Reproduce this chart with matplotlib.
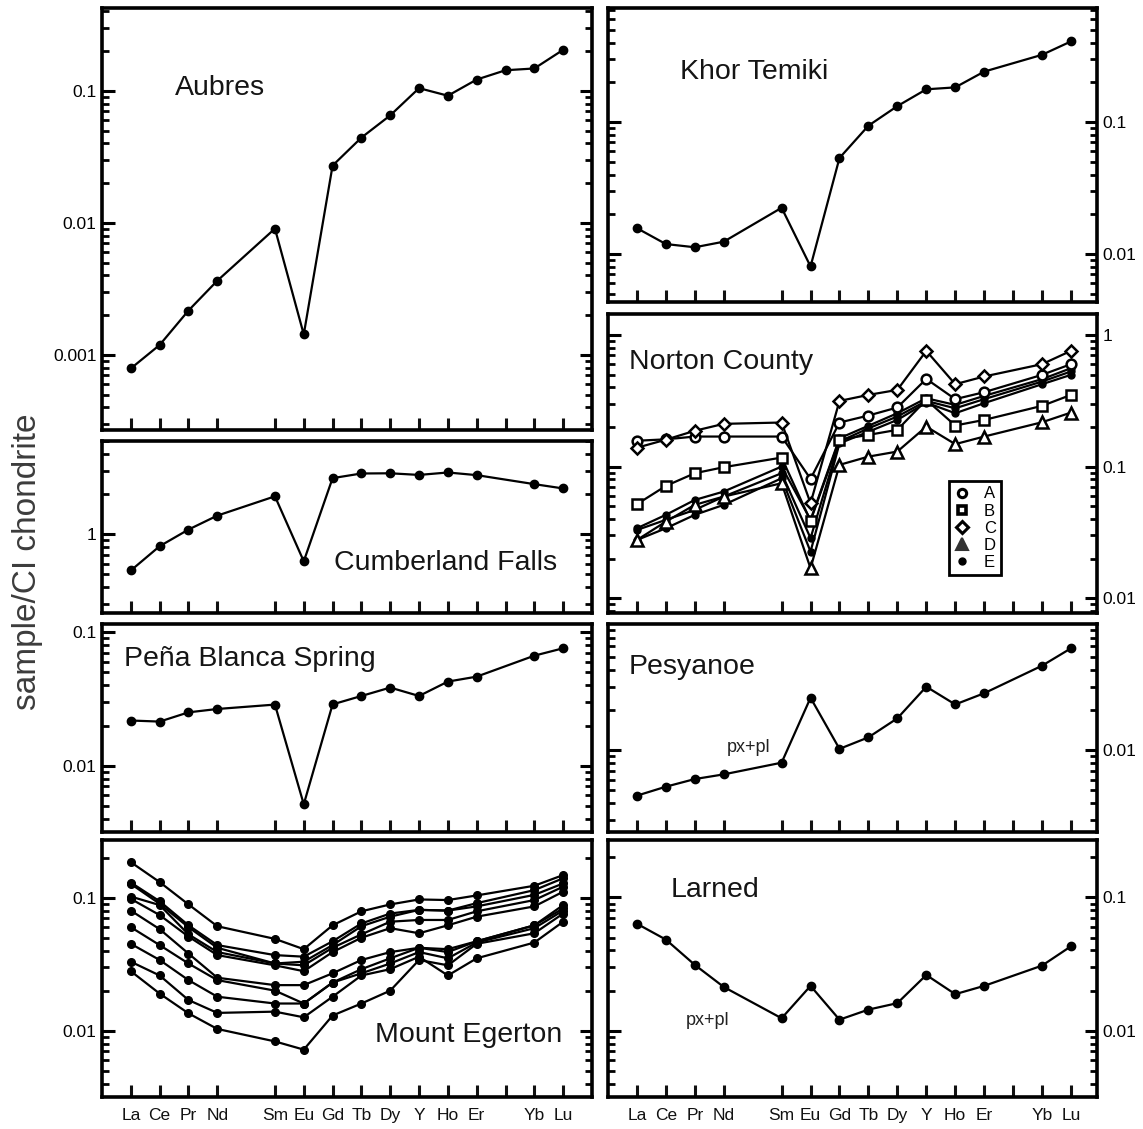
import matplotlib
matplotlib.use('Agg')
import matplotlib.pyplot as plt
from matplotlib.lines import Line2D
from matplotlib.ticker import LogLocator, NullFormatter, FixedLocator, FixedFormatter

plt.rcParams['font.family'] = ['Liberation Sans', 'DejaVu Sans']

# ---------------- data ----------------
slots = ['La', 'Ce', 'Pr', 'Nd', 'Pm', 'Sm', 'Eu', 'Gd', 'Tb', 'Dy', 'Y', 'Ho', 'Er', 'Tm', 'Yb', 'Lu']
ree = ['La', 'Ce', 'Pr', 'Nd', 'Sm', 'Eu', 'Gd', 'Tb', 'Dy', 'Y', 'Ho', 'Er', 'Yb', 'Lu']
ree_tm = ['La', 'Ce', 'Pr', 'Nd', 'Sm', 'Eu', 'Gd', 'Tb', 'Dy', 'Y', 'Ho', 'Er', 'Tm', 'Yb', 'Lu']

aubres = [7.9e-4, 1.19e-3, 2.17e-3, 3.65e-3, 9.06e-3, 1.43e-3, 0.0272, 0.0443, 0.0653,
          0.105, 0.092, 0.122, 0.1435, 0.148, 0.205]
khor_temiki = [0.0157, 0.0119, 0.01125, 0.0124, 0.0224, 0.00805, 0.0534, 0.0938, 0.132,
               0.177, 0.183, 0.241, 0.323, 0.408]
cumberland = [0.532, 0.81, 1.08, 1.375, 1.92, 0.624, 2.63, 2.85, 2.86, 2.78, 2.90, 2.77, 2.37, 2.20]
pena_blanca = [0.0218, 0.0214, 0.0251, 0.0266, 0.0287, 0.00513, 0.0288, 0.0333, 0.0385,
               0.0333, 0.0427, 0.0465, 0.0668, 0.0759]
pesyanoe = [0.00454, 0.0053, 0.00605, 0.00656, 0.00803, 0.0247, 0.0102, 0.01245, 0.0173,
            0.0299, 0.0220, 0.0267, 0.0430, 0.0581]
larned = [0.0635, 0.0483, 0.0312, 0.0213, 0.0124, 0.0217, 0.0121, 0.0144, 0.0161,
          0.0262, 0.0188, 0.0217, 0.0308, 0.043]

norton_A = [0.157, 0.161, 0.169, 0.169, 0.169, 0.0806, 0.216, 0.244, 0.281, 0.463, 0.325, 0.367, 0.497, 0.599]
norton_B = [0.0518, 0.0713, 0.089, 0.0989, 0.117, 0.0387, 0.160, 0.174, 0.190, 0.321, 0.205, 0.226, 0.289, 0.350]
norton_C = [0.139, 0.160, 0.187, 0.211, 0.216, 0.0527, 0.315, 0.350, 0.382, 0.756, 0.422, 0.483, 0.599, 0.756]
norton_D = [0.0277, 0.0382, 0.0512, 0.0592, 0.0747, 0.0169, 0.103, 0.119, 0.130, 0.201, 0.148, 0.169, 0.217, 0.257]
norton_E1 = [0.0340, 0.0430, 0.0558, 0.0646, 0.100, 0.0394, 0.164, 0.204, 0.254, 0.330, 0.294, 0.344, 0.461, 0.558]
norton_E2 = [0.0330, 0.0394, 0.0469, 0.0592, 0.089, 0.0286, 0.155, 0.195, 0.240, 0.315, 0.277, 0.325, 0.442, 0.527]
norton_E3 = [0.0277, 0.0340, 0.0430, 0.0512, 0.0815, 0.0226, 0.150, 0.184, 0.226, 0.306, 0.254, 0.303, 0.422, 0.497]

egerton_1 = [0.185, 0.131, 0.089, 0.061, 0.049, 0.041, 0.062, 0.079, 0.089, 0.097, 0.096, 0.104, 0.123, 0.148]
egerton_2 = [0.130, 0.094, 0.062, 0.044, 0.037, 0.036, 0.047, 0.064, 0.076, 0.081, 0.080, 0.091, 0.114, 0.140]
egerton_3 = [0.127, 0.090, 0.060, 0.042, 0.032, 0.033, 0.044, 0.061, 0.072, 0.081, 0.080, 0.086, 0.105, 0.128]
egerton_4 = [0.102, 0.088, 0.053, 0.039, 0.032, 0.031, 0.042, 0.053, 0.066, 0.068, 0.068, 0.079, 0.096, 0.121]
egerton_5 = [0.098, 0.074, 0.051, 0.037, 0.031, 0.028, 0.039, 0.050, 0.059, 0.054, 0.062, 0.072, 0.086, 0.111]
egerton_6 = [0.080, 0.058, 0.038, 0.025, 0.022, 0.022, 0.027, 0.034, 0.039, 0.042, 0.041, 0.047, 0.062, 0.088]
egerton_7 = [0.060, 0.044, 0.032, 0.024, 0.020, 0.016, 0.023, 0.029, 0.035, 0.042, 0.039, 0.047, 0.062, 0.083]
egerton_8 = [0.045, 0.034, 0.024, 0.018, 0.016, 0.016, 0.023, 0.027, 0.032, 0.039, 0.035, 0.046, 0.059, 0.080]
egerton_9 = [0.033, 0.026, 0.017, 0.0136, 0.0139, 0.0126, 0.018, 0.026, 0.029, 0.036, 0.026, 0.035, 0.046, 0.066]
egerton_10 = [0.028, 0.019, 0.0135, 0.0103, 0.0083, 0.0072, 0.013, 0.016, 0.020, 0.034, 0.031, 0.045, 0.054, 0.076]

legend_labels = ['A', 'B', 'C', 'D', 'E']
ylabel = 'sample/CI chondrite'

# ---------------- figure ----------------
fig = plt.figure(figsize=(11.43, 11.29), dpi=100)
W, H = 1143.0, 1129.0

tick_slots = [s for s in slots if s != 'Pm']
tick_pos = [slots.index(s) for s in tick_slots]
tick_text = ['' if s == 'Tm' else s for s in tick_slots]


def px_rect(x0, y0, x1, y1):
    return [x0 / W, 1 - y1 / H, (x1 - x0) / W, (y1 - y0) / H]


def make_ax(rect, ylim, majors, labels, side, xlabels=False, xmax=16.0):
    ax = fig.add_axes(rect)
    ax.set_yscale('log')
    ax.set_xlim(-1, xmax)
    ax.set_ylim(*ylim)
    ax.yaxis.set_major_locator(FixedLocator(majors))
    ax.yaxis.set_major_formatter(FixedFormatter(labels))
    ax.yaxis.set_minor_locator(LogLocator(base=10, subs=range(2, 10), numticks=100))
    ax.yaxis.set_minor_formatter(NullFormatter())
    ax.set_xticks(tick_pos)
    ax.set_xticklabels(tick_text if xlabels else [''] * len(tick_pos))
    ax.tick_params(axis='x', which='major', direction='in', length=9, width=2.2,
                   bottom=True, top=False, labelsize=12.5, pad=8, colors='#111111')
    ax.tick_params(axis='x', which='minor', bottom=False, top=False)
    ax.tick_params(axis='y', which='major', direction='in', length=9, width=2.2,
                   left=True, right=True, labelleft=(side == 'left'),
                   labelright=(side == 'right'), labelsize=12.5, pad=4)
    ax.tick_params(axis='y', which='minor', direction='in', length=5, width=2.0,
                   left=True, right=True)
    for sp in ax.spines.values():
        sp.set_linewidth(2.6)
    return ax


def plot_series(ax, elems, vals, **kw):
    xs = [slots.index(e) for e in elems]
    style = dict(color='black', lw=1.6, marker='o', ms=6, mfc='black', mec='black')
    style.update(kw)
    ax.plot(xs, vals, **style)


TITLE = dict(fontsize=20.5, color='#151515', ha='left', va='center')
NOTE = dict(fontsize=13, color='#222222', ha='left', va='center')

# Aubres
ax = make_ax(px_rect(102, 8, 592, 430), (2.7e-4, 0.425), [0.001, 0.01, 0.1], ['0.001', '0.01', '0.1'], 'left')
plot_series(ax, ree_tm, aubres)
ax.text(0.149, 0.81, 'Aubres', transform=ax.transAxes, **TITLE)

# Cumberland Falls
ax = make_ax(px_rect(102, 441, 592, 613), (0.255, 5.0), [1], ['1'], 'left')
plot_series(ax, ree, cumberland)
ax.text(0.473, 0.29, 'Cumberland Falls', transform=ax.transAxes, **TITLE)

# Pena Blanca Spring
ax = make_ax(px_rect(102, 624, 592, 832), (0.00318, 0.1154), [0.01, 0.1], ['0.01', '0.1'], 'left')
plot_series(ax, ree, pena_blanca)
ax.text(0.045, 0.832, 'Peña Blanca Spring', transform=ax.transAxes, **TITLE)

# Mount Egerton
ax = make_ax(px_rect(102, 840, 592, 1097), (0.00317, 0.2716), [0.01, 0.1], ['0.01', '0.1'], 'left', xlabels=True)
for s in [egerton_1, egerton_2, egerton_3, egerton_4, egerton_5,
          egerton_6, egerton_7, egerton_8, egerton_9, egerton_10]:
    plot_series(ax, ree, s, ms=5.5)
ax.text(0.557, 0.241, 'Mount Egerton', transform=ax.transAxes, **TITLE)

# Khor Temiki
ax = make_ax(px_rect(608, 8, 1097, 302), (0.00433, 0.731), [0.01, 0.1], ['0.01', '0.1'], 'right', xmax=15.9)
plot_series(ax, ree, khor_temiki)
ax.text(0.147, 0.782, 'Khor Temiki', transform=ax.transAxes, **TITLE)

# Norton County
ax = make_ax(px_rect(608, 314, 1097, 613), (0.00773, 1.44), [0.01, 0.1, 1], ['0.01', '0.1', '1'], 'right', xmax=15.9)
for s in [norton_E3, norton_E2, norton_E1]:
    plot_series(ax, ree, s, ms=5)
open_kw = dict(mfc='white', mec='black', mew=1.8)
plot_series(ax, ree, norton_D, marker='^', ms=8, **open_kw)
plot_series(ax, ree, norton_B, marker='s', ms=7, **open_kw)
plot_series(ax, ree, norton_A, marker='o', ms=7, **open_kw)
plot_series(ax, ree, norton_C, marker='D', ms=6, **open_kw)
ax.text(0.043, 0.839, 'Norton County', transform=ax.transAxes, **TITLE)
handles = [
    Line2D([], [], ls='none', marker='o', ms=6, mfc='white', mec='black', mew=2.2),
    Line2D([], [], ls='none', marker='s', ms=6, mfc='white', mec='black', mew=2.6),
    Line2D([], [], ls='none', marker='D', ms=6, mfc='white', mec='black', mew=2.2),
    Line2D([], [], ls='none', marker='^', ms=8, mfc='#333333', mec='#333333', mew=1.5),
    Line2D([], [], ls='none', marker='o', ms=5, mfc='black', mec='black'),
]
leg = ax.legend(handles, legend_labels, loc='upper left', bbox_to_anchor=(0.697, 0.44),
                frameon=True, fancybox=False, framealpha=1, edgecolor='black',
                fontsize=12, handlelength=1.0, handletextpad=0.8, labelspacing=0.13,
                borderpad=0.3, borderaxespad=0)
leg.get_frame().set_linewidth(2.0)

# Pesyanoe
ax = make_ax(px_rect(608, 624, 1097, 832), (0.00242, 0.0885), [0.01], ['0.01'], 'right', xmax=15.9)
plot_series(ax, ree, pesyanoe)
ax.text(0.043, 0.793, 'Pesyanoe', transform=ax.transAxes, **TITLE)
ax.text(0.243, 0.404, 'px+pl', transform=ax.transAxes, **NOTE)

# Larned
ax = make_ax(px_rect(608, 840, 1097, 1097), (0.00318, 0.27), [0.01, 0.1], ['0.01', '0.1'], 'right',
             xlabels=True, xmax=15.9)
plot_series(ax, ree, larned)
ax.text(0.129, 0.805, 'Larned', transform=ax.transAxes, **TITLE)
ax.text(0.160, 0.296, 'px+pl', transform=ax.transAxes, **NOTE)

fig.text(28 / W, 1 - 562 / H, ylabel, rotation=90, fontsize=24, color='#3c3c3c',
         ha='center', va='center')

fig.savefig('out.png', dpi=100)
